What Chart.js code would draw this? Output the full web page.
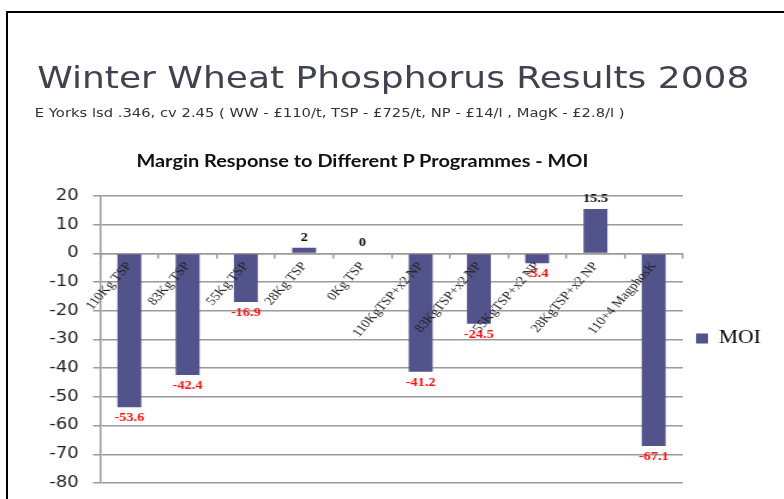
<!DOCTYPE html>
<html>
<head>
<meta charset="utf-8">
<script src="https://cdn.jsdelivr.net/npm/chart.js@4/dist/chart.umd.min.js"></script>
<style>
  html, body { margin: 0; padding: 0; background: #fff; overflow: hidden; }
  body { width: 784px; height: 499px; position: relative; }
  /* slide frame, only top and left edges are visible */
  #frame { position: absolute; left: 6px; top: 11px; right: -10px; bottom: -10px;
           border-top: 2px solid #000; border-left: 2px solid #000; }
  /* the source picture is stretched sideways, so the whole slide is too */
  #stage { position: absolute; left: 0; top: 0; width: 654px; height: 520px;
           transform: scaleX(1.2); transform-origin: 0 0; }
  #title { position: absolute; left: 31px; top: 63px; font: 30px/30px "DejaVu Sans";
           color: #41414f; white-space: nowrap; }
  #sub { position: absolute; left: 29px; top: 107px; font: 12.3px/13px "DejaVu Sans";
         color: #333; white-space: nowrap; }
  #ctitle { position: absolute; left: 0; width: 604px; top: 151px; text-align: center;
            font: bold 16.6px/20px Lato; color: #111; white-space: nowrap; }
  #chart { position: absolute; left: 0; top: 175px; }
</style>
</head>
<body>
<div id="frame"></div>
<div id="stage">
  <div id="title">Winter Wheat Phosphorus Results 2008</div>
  <div id="sub">E Yorks lsd .346, cv 2.45 ( WW - £110/t, TSP - £725/t, NP - £14/l , MagK - £2.8/l )</div>
  <div id="ctitle">Margin Response to Different P Programmes - MOI</div>
  <canvas id="chart" width="654" height="329"></canvas>
</div>
<script>
// programmes along the x axis
const programmes = ["110Kg TSP", "83Kg TSP", "55Kg TSP", "28Kg TSP", "0Kg TSP",
  "110KgTSP+x2 NP", "83KgTSP+x2 NP", "55KgTSP+x2 NP", "28KgTSP+x2 NP", "110+4 MagphosK"];
// margin over input, £/ha
const moi = [-53.6, -42.4, -16.9, 2, 0, -41.2, -24.5, -3.4, 15.5, -67.1];
// y axis range
const yMin = -80;
const yMax = 20;
const yStep = 10;

const barColour = "#53538b";
const gridColour = "#9a9a9a";

// numbers next to each bar end, red for losses
const valueLabels = {
  id: "valueLabels",
  afterDatasetsDraw(chart) {
    const ctx = chart.ctx;
    const meta = chart.getDatasetMeta(0);
    meta.data.forEach((bar, i) => {
      const v = moi[i];
      ctx.save();
      ctx.font = "bold 12px 'Liberation Serif'";
      ctx.textAlign = "center";
      ctx.textBaseline = "middle";
      ctx.fillStyle = v < 0 ? "#ff1010" : "#111";
      ctx.fillText(String(v), bar.x, v < 0 ? bar.y + 11 : bar.y - 10);
      ctx.restore();
    });
  }
};

new Chart("chart", {
  type: "bar",
  data: {
    labels: programmes,
    datasets: [{
      label: "MOI",
      data: moi,
      backgroundColor: barColour,
      borderWidth: 0,
      barPercentage: 0.41,
      categoryPercentage: 1
    }]
  },
  options: {
    responsive: false,
    animation: false,
    layout: { padding: { left: 29, top: 17, bottom: 19, right: 10 } },
    plugins: {
      title: { display: false },
      tooltip: { enabled: false },
      legend: {
        position: "right",
        labels: {
          boxWidth: 10,
          boxHeight: 10,
          padding: 11,
          color: "#000",
          font: { family: "'Liberation Serif'", size: 18 }
        }
      }
    },
    scales: {
      x: {
        position: { y: 0 },
        offset: true,
        // labels hang off the zero line, they should not push the plot inwards
        afterFit: (scale) => { scale.paddingLeft = 0; scale.paddingRight = 0; },
        grid: { display: true, drawOnChartArea: false, drawTicks: true, tickLength: 4,
                color: gridColour, lineWidth: 1.5, offset: true },
        border: { display: true, color: gridColour, width: 1.5 },
        ticks: {
          autoSkip: false,
          minRotation: 53,
          maxRotation: 53,
          padding: 2,
          z: 1,
          color: "#222",
          font: { family: "'Liberation Serif'", size: 12 }
        }
      },
      y: {
        min: yMin,
        max: yMax,
        grid: { color: gridColour, lineWidth: 1.5, tickLength: 6 },
        border: { display: true, color: gridColour, width: 1.5 },
        ticks: {
          stepSize: yStep,
          padding: 12,
          color: "#222",
          font: { family: "'DejaVu Sans'", size: 15 }
        }
      }
    }
  },
  plugins: [valueLabels]
});
</script>
</body>
</html>
